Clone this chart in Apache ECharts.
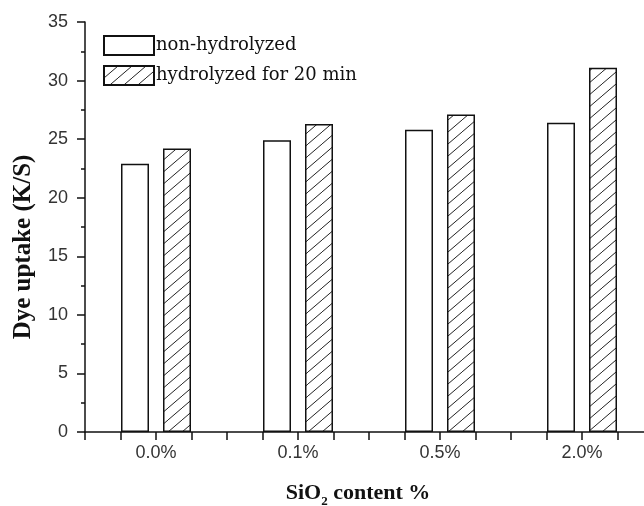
<!DOCTYPE html>
<html>
<head>
<meta charset="utf-8">
<script src="https://cdn.jsdelivr.net/npm/echarts@6/dist/echarts.min.js"></script>
<style>
  html, body { margin: 0; padding: 0; background: #fff; }
  #chart { width: 644px; height: 506px; }
</style>
</head>
<body>
<div id="chart"></div>
<script>
// 数据
const categories = ['0.0%', '0.1%', '0.5%', '2.0%'];
const nonHydrolyzed = [22.9, 24.9, 25.8, 26.4];
const hydrolyzed = [24.2, 26.3, 27.1, 31.1];
const yTicks = [0, 5, 10, 15, 20, 25, 30, 35];

// 斜线填充
function hatch() {
  const w = 14, h = 12;
  const c = document.createElement('canvas');
  c.width = w; c.height = h;
  const ctx = c.getContext('2d');
  ctx.fillStyle = '#fff';
  ctx.fillRect(0, 0, w, h);
  ctx.strokeStyle = '#222';
  ctx.lineWidth = 1;
  ctx.beginPath();
  ctx.moveTo(-2, h + 2 * h / w);
  ctx.lineTo(w + 2, -2 * h / w);
  ctx.stroke();
  return c;
}

const chart = echarts.init(document.getElementById('chart'));

const option = {
  animation: false,
  grid: { left: 85, top: 22, right: -9, bottom: 74, containLabel: false, outerBoundsMode: 'none' },
  legend: {
    left: 103,
    top: 35,
    padding: 0,
    orient: 'vertical',
    itemWidth: 50,
    itemHeight: 19,
    itemGap: 9,
    icon: 'rect',
    textStyle: { fontFamily: 'DejaVu Serif', fontSize: 18, color: '#111', padding: [0, 0, 0, -3] },
    data: ['non-hydrolyzed', 'hydrolyzed for 20 min'],
  },
  xAxis: [{
    type: 'category',
    data: categories,
    show: false,
  }, {
    type: 'value',
    min: 0,
    max: 4,
    interval: 0.25,
    position: 'bottom',
    splitLine: { show: false },
    axisLine: { lineStyle: { color: '#111', width: 1.5 } },
    axisTick: { show: true, length: 8, lineStyle: { color: '#111', width: 1.5 } },
    axisLabel: {
      margin: 12,
      fontFamily: 'Liberation Sans',
      fontSize: 18,
      color: '#333',
      showMinLabel: true,
      showMaxLabel: true,
      formatter: (v) => {
        const i = v - 0.5;
        return Math.abs(i - Math.round(i)) < 1e-6 ? categories[Math.round(i)] : '';
      },
    },
    name: '{a|SiO}{b|2}{a| content %}',
    nameLocation: 'middle',
    nameGap: 50,
    nameTextStyle: {
      padding: [0, 22, 0, 0],
      rich: {
        a: { fontFamily: 'Liberation Serif', fontWeight: 'bold', fontSize: 22, color: '#111', lineHeight: 26, verticalAlign: 'top' },
        b: { fontFamily: 'Liberation Serif', fontWeight: 'bold', fontSize: 13, color: '#111', lineHeight: 13, padding: [13, 0, 0, 0], verticalAlign: 'top' },
      },
    },
  }],
  yAxis: {
    type: 'value',
    min: yTicks[0],
    max: yTicks[yTicks.length - 1],
    interval: 5,
    splitLine: { show: false },
    axisLine: { show: true, lineStyle: { color: '#111', width: 1.5 } },
    axisTick: { show: true, length: 8, lineStyle: { color: '#111', width: 1.5 } },
    minorTick: { show: true, splitNumber: 2, length: 4, lineStyle: { color: '#111', width: 1.5 } },
    axisLabel: { margin: 17, fontFamily: 'Liberation Sans', fontSize: 18, color: '#333' },
    name: 'Dye uptake (K/S)',
    nameLocation: 'middle',
    nameGap: 49,
    nameTextStyle: {
      fontFamily: 'Liberation Serif',
      fontWeight: 'bold',
      fontSize: 25,
      color: '#111',
      padding: [0, 40, 0, 0],
    },
  },
  series: [{
    name: 'non-hydrolyzed',
    type: 'bar',
    xAxisIndex: 0,
    barWidth: 28,
    barGap: '50%',
    data: nonHydrolyzed,
    itemStyle: { color: '#fff', borderColor: '#111', borderWidth: 1.5 },
  }, {
    name: 'hydrolyzed for 20 min',
    type: 'bar',
    xAxisIndex: 0,
    barWidth: 28,
    barGap: '50%',
    data: hydrolyzed,
    itemStyle: {
      color: { image: hatch(), repeat: 'repeat' },
      borderColor: '#111',
      borderWidth: 1.5,
    },
  }],
};

chart.setOption(option);
</script>
</body>
</html>
